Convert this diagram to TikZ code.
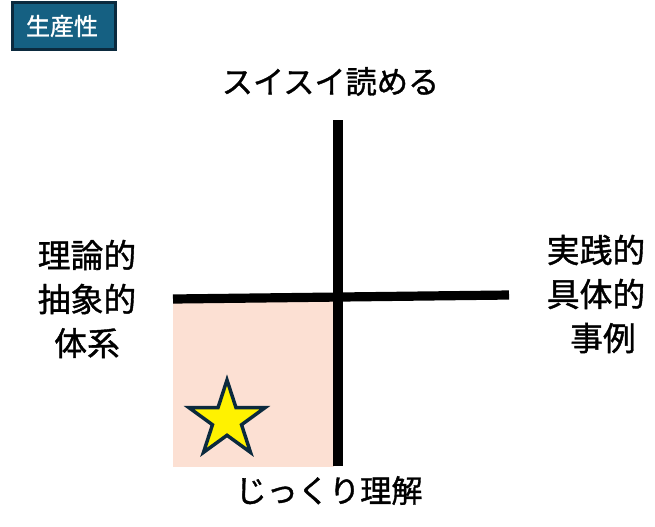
\documentclass[tikz,border=0pt]{standalone}
\usepackage{fontspec}
\usetikzlibrary{shapes.geometric}
\newfontfamily\jpfont[FakeBold=1.2]{Noto Sans CJK JP}
\definecolor{badgeblue}{HTML}{156082}
\definecolor{badgeline}{HTML}{0B2A3E}
\definecolor{quadpeach}{HTML}{FCE0D3}
\tikzset{
    axisline/.style={line width=6.9pt},
    biglabel/.style={font=\jpfont\fontsize{23.4}{33}\selectfont,align=center,inner sep=0pt},
    sidelabel/.style={biglabel,font=\jpfont\fontsize{24.6}{33}\selectfont},
}
\begin{document}
\begin{tikzpicture}[x=0.75pt,y=-0.75pt]
            \useasboundingbox (0,0) rectangle (655,526);
            \fill[fill=quadpeach] (172.5,298) rectangle (334,467);
            \coordinate (top) at (338,120);
            \coordinate (bottom) at (338,466);
            \coordinate (left) at (173,299);
            \coordinate (right) at (509,295);
            \draw[axisline] (top) -- (bottom);
            \draw[axisline] (left) -- (right);
            \node (badge) at (64,26) [draw=badgeline,fill=badgeblue,line width=2.2pt,minimum width=77pt,minimum height=35.5pt,inner sep=0pt,text=white,font=\jpfont\fontsize{18}{20}\selectfont]{\hspace*{-3pt}生産性};
            \node (star) at (227,420) [star,star points=5,star point ratio=2.618,draw=badgeline,fill=yellow,line width=2.6pt,minimum size=60pt,inner sep=0pt]{};
            \node (north) at (330.5,81.5) [biglabel]{スイスイ読める};
            \node (south) at (329,490.5) [biglabel]{じっくり理解};
            \node (west) at (87,299) [sidelabel]{理論的\\抽象的\\体系};
            \node (east) at (596,294) [sidelabel]{実践的\\具体的\\\hspace*{10.5pt}事例};
        \end{tikzpicture}
\end{document}
